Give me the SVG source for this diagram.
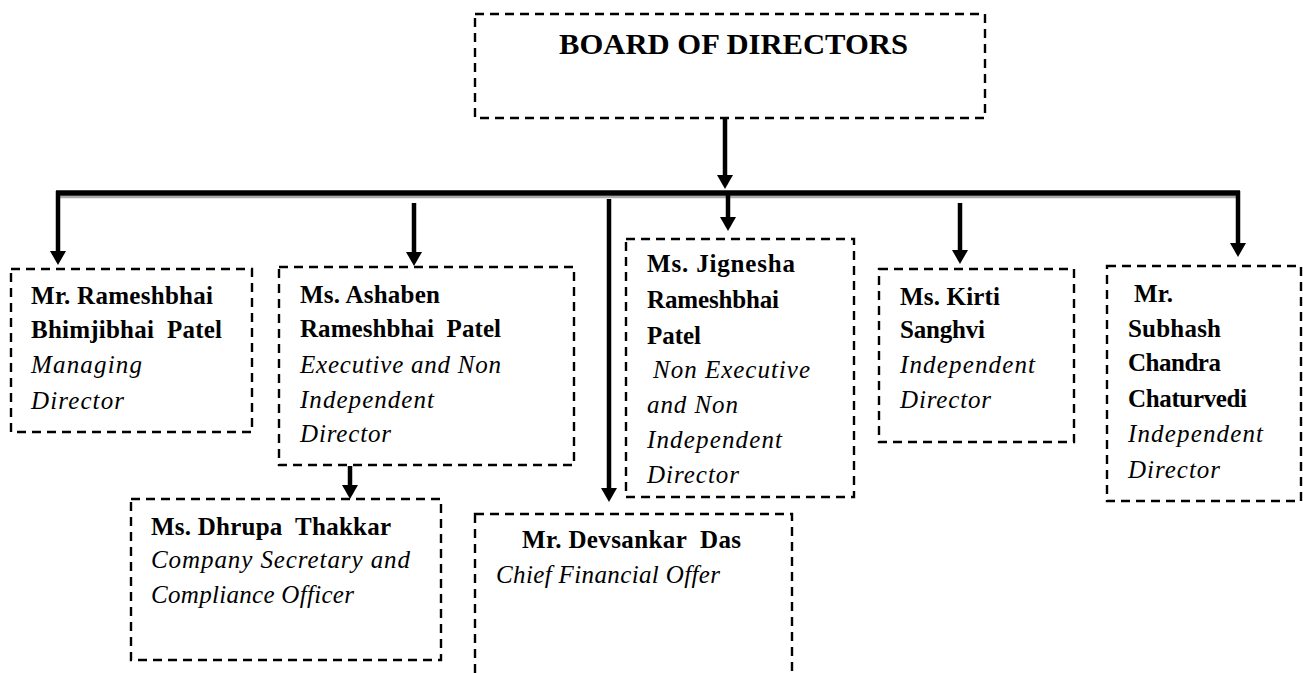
<svg xmlns="http://www.w3.org/2000/svg" width="1303" height="673" viewBox="0 0 1303 673">
<defs>
<marker id="ah" viewBox="0 0 14 16" refX="4" refY="8" markerWidth="14" markerHeight="16" markerUnits="userSpaceOnUse" orient="auto">
<path d="M0,0 L14,8 L0,16 z" fill="#000"/>
</marker>
</defs>
<style>
.box{fill:#fff;stroke:#000;stroke-width:2.4;stroke-dasharray:9 6}
.b{font-family:"Liberation Serif","Times New Roman",serif;font-weight:bold;font-size:25px;fill:#000}
.i{font-family:"Liberation Serif","Times New Roman",serif;font-style:italic;font-size:25px;fill:#000}
.t{font-family:"Liberation Serif","Times New Roman",serif;font-weight:bold;font-size:29px;fill:#000}
.c{stroke:#000;stroke-width:4.5;fill:none}
.ca{stroke:#000;stroke-width:4.5;fill:none;marker-end:url(#ah)}
</style>
<rect width="1303" height="673" fill="#fff"/>

<g id="connectors">
<line x1="58" y1="197" x2="1240" y2="197" stroke="#aaa" stroke-width="2.5"/>
<line class="c" x1="56" y1="193" x2="1240" y2="193" style="stroke-width:5.5"/>
<line class="ca" x1="725" y1="118" x2="725" y2="179"/>
<line class="ca" x1="58" y1="191" x2="58" y2="255"/>
<line class="ca" x1="414" y1="203" x2="414" y2="256"/>
<line class="ca" x1="609" y1="199" x2="609" y2="492"/>
<line class="ca" x1="728" y1="193" x2="728" y2="221"/>
<line class="ca" x1="960" y1="203" x2="960" y2="254"/>
<line class="ca" x1="1238" y1="191" x2="1238" y2="247"/>
<line class="ca" x1="350" y1="466" x2="350" y2="489"/>
</g>

<g id="board">
<rect class="box" x="475" y="14" width="510" height="104"/>
<text class="t" x="559" y="54" textLength="349" lengthAdjust="spacingAndGlyphs">BOARD OF DIRECTORS</text>
</g>

<g id="rameshbhai">
<rect class="box" x="11" y="269" width="241" height="163"/>
<text class="b" x="31" y="304" textLength="182" lengthAdjust="spacing">Mr. Rameshbhai</text>
<text class="b" x="31" y="338" textLength="191" lengthAdjust="spacing" xml:space="preserve">Bhimjibhai  Patel</text>
<text class="i" x="31" y="373" textLength="111" lengthAdjust="spacing">Managing</text>
<text class="i" x="31" y="409" textLength="93" lengthAdjust="spacing">Director</text>
</g>

<g id="ashaben">
<rect class="box" x="279" y="267" width="295" height="198"/>
<text class="b" x="300" y="303" textLength="140" lengthAdjust="spacing">Ms. Ashaben</text>
<text class="b" x="300" y="337" textLength="201" lengthAdjust="spacing" xml:space="preserve">Rameshbhai  Patel</text>
<text class="i" x="300" y="373" textLength="201" lengthAdjust="spacing">Executive and Non</text>
<text class="i" x="300" y="408" textLength="134" lengthAdjust="spacing">Independent</text>
<text class="i" x="300" y="442" textLength="91" lengthAdjust="spacing">Director</text>
</g>

<g id="jignesha">
<rect class="box" x="626" y="239" width="228" height="258"/>
<text class="b" x="647" y="272" textLength="148" lengthAdjust="spacing">Ms. Jignesha</text>
<text class="b" x="647" y="308" textLength="132" lengthAdjust="spacing">Rameshbhai</text>
<text class="b" x="647" y="344" textLength="54" lengthAdjust="spacing">Patel</text>
<text class="i" x="653" y="378" textLength="157" lengthAdjust="spacing">Non Executive</text>
<text class="i" x="647" y="413" textLength="91" lengthAdjust="spacing">and Non</text>
<text class="i" x="647" y="448" textLength="135" lengthAdjust="spacing">Independent</text>
<text class="i" x="647" y="483" textLength="92" lengthAdjust="spacing">Director</text>
</g>

<g id="kirti">
<rect class="box" x="879" y="269" width="195" height="173"/>
<text class="b" x="900" y="305" textLength="100" lengthAdjust="spacing">Ms. Kirti</text>
<text class="b" x="900" y="338" textLength="85" lengthAdjust="spacing">Sanghvi</text>
<text class="i" x="900" y="373" textLength="135" lengthAdjust="spacing">Independent</text>
<text class="i" x="900" y="408" textLength="91" lengthAdjust="spacing">Director</text>
</g>

<g id="subhash">
<rect class="box" x="1107" y="266" width="194" height="235"/>
<text class="b" x="1134" y="302" textLength="39" lengthAdjust="spacing">Mr.</text>
<text class="b" x="1128" y="337" textLength="93" lengthAdjust="spacing">Subhash</text>
<text class="b" x="1128" y="371" textLength="93" lengthAdjust="spacing">Chandra</text>
<text class="b" x="1128" y="407" textLength="119" lengthAdjust="spacing">Chaturvedi</text>
<text class="i" x="1128" y="442" textLength="135" lengthAdjust="spacing">Independent</text>
<text class="i" x="1128" y="478" textLength="92" lengthAdjust="spacing">Director</text>
</g>

<g id="dhrupa">
<rect class="box" x="131" y="499" width="310" height="161"/>
<text class="b" x="151" y="535" textLength="240" lengthAdjust="spacing" xml:space="preserve">Ms. Dhrupa  Thakkar</text>
<text class="i" x="151" y="568" textLength="259" lengthAdjust="spacing">Company Secretary and</text>
<text class="i" x="151" y="603" textLength="203" lengthAdjust="spacing">Compliance Officer</text>
</g>

<g id="devsankar">
<rect class="box" x="475" y="514" width="317" height="175"/>
<text class="b" x="522" y="548" textLength="219" lengthAdjust="spacing" xml:space="preserve">Mr. Devsankar  Das</text>
<text class="i" x="496" y="583" textLength="224" lengthAdjust="spacing">Chief Financial Offer</text>
</g>
</svg>
